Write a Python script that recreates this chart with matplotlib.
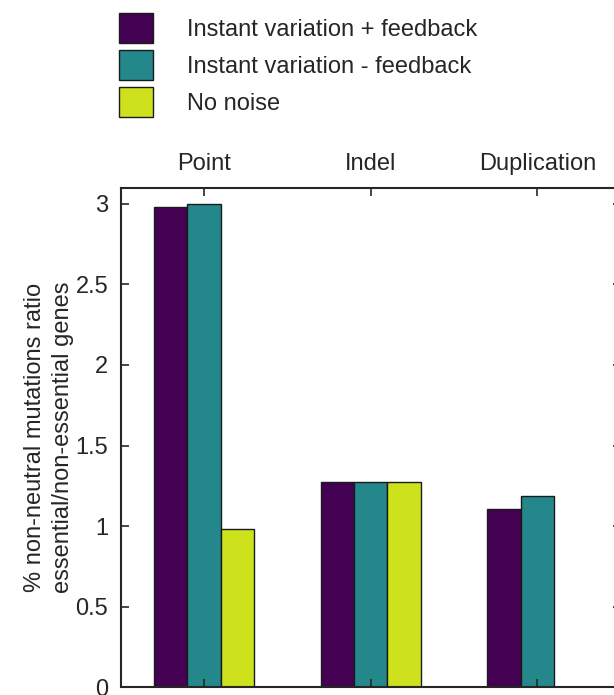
import numpy as np
import matplotlib
matplotlib.use("Agg")
import matplotlib.pyplot as plt

categories = ["Point", "Indel", "Duplication"]
series_names = ["Instant variation + feedback", "Instant variation - feedback", "No noise"]
plus_feedback = [2.98, 1.275, 1.105]
minus_feedback = [3.0, 1.275, 1.185]
no_noise = [0.98, 1.275, np.nan]
yticks = [0, 0.5, 1, 1.5, 2, 2.5, 3]
ytick_labels = ["0", "0.5", "1", "1.5", "2", "2.5", "3"]
ylabel = "% non-neutral mutations ratio\nessential/non-essential genes"

colors = ["#440154", "#23878c", "#cde11d"]

plt.rcParams["font.family"] = ["Liberation Sans", "DejaVu Sans"]
FS = 17
FSPX = FS * 100 / 72

W, H = 614, 695
fig = plt.figure(figsize=(W / 100, H / 100), dpi=100)
ax_left, ax_bottom, ax_w, ax_h = 120.7, 7.7, 500.0, 499.6
ax = fig.add_axes([ax_left / W, ax_bottom / H, ax_w / W, ax_h / H])

x = np.arange(1, len(categories) + 1)
width = 0.2
all_series = [plus_feedback, minus_feedback, no_noise]
handles = []
for i, (vals, c, name) in enumerate(zip(all_series, colors, series_names)):
    b = ax.bar(x + (i - 1) * width, vals, width, color=c, edgecolor="#1a1a1a",
               linewidth=1.0, label=name)
    handles.append(b)

ax.set_xlim(0.5, 3.5)
ax.set_ylim(0, 3.1)
ax.set_xticks(x)
ax.set_xticklabels(categories, fontsize=FS, color="#262626")
ax.set_yticks(yticks)
ax.set_yticklabels(ytick_labels, fontsize=FS, color="#262626")
ax.xaxis.set_ticks_position("top")
ax.xaxis.set_label_position("top")
ax.tick_params(axis="x", direction="in", length=6, width=1.2, colors="#262626",
               labelcolor="#262626", pad=9, top=True, bottom=True)
ax.tick_params(axis="y", direction="in", length=6, width=1.2, colors="#262626",
               labelcolor="#262626", pad=9, left=True, right=True)
for s in ax.spines.values():
    s.set_linewidth(1.5)
    s.set_color("#262626")

ax.set_ylabel(ylabel, fontsize=FS, color="#262626", linespacing=1.4, va="center")
ax.yaxis.set_label_coords((49 - ax_left) / ax_w, 0.5)

hh = (30 / FSPX - 0.245) / 0.65
leg = fig.legend(handles=handles, labels=series_names, loc="upper left",
                 bbox_to_anchor=(119 / W, 1 - 13 / H), frameon=False, fontsize=FS,
                 borderpad=0, borderaxespad=0, handlelength=34 / FSPX,
                 handleheight=hh, labelspacing=7 / FSPX,
                 handletextpad=34 / FSPX)
for t in leg.get_texts():
    t.set_color("#262626")

fig.savefig("out.png", dpi=100)
